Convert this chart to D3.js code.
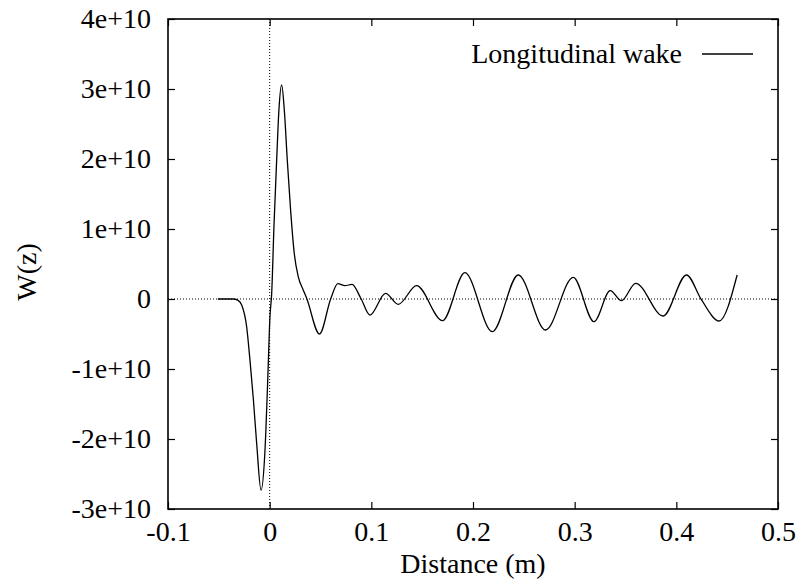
<!DOCTYPE html>
<html>
<head>
<meta charset="utf-8">
<script src="https://cdn.jsdelivr.net/npm/d3@7"></script>
<style>
  body { margin: 0; background: #fff; }
  svg text { font-family: 'Liberation Serif', Tinos, 'Times New Roman', Times, 'DejaVu Serif', serif; fill: #000; }
</style>
</head>
<body>
<div id="chart"></div>
<script>
// longitudinal wake, distance in m, W(z) in units of 1e10
const distance = [
  -0.051, -0.044, -0.036, -0.031, -0.0275, -0.0226, -0.0194, -0.016, -0.0128, -0.0085,
  -0.0046, -0.002, 0.0003, 0.002, 0.0042, 0.0069, 0.0091, 0.0118, 0.0144, 0.0173,
  0.0206, 0.0242, 0.0281, 0.033, 0.0364, 0.049, 0.060, 0.067, 0.074, 0.081,
  0.090, 0.0986, 0.114, 0.1265, 0.1445, 0.170, 0.192, 0.219, 0.2445, 0.2714,
  0.2986, 0.319, 0.335, 0.346, 0.360, 0.387, 0.410, 0.4248, 0.442, 0.4598
];
const wake = [
  0, 0, 0, -0.02, -0.086, -0.40, -0.87, -1.44, -2.06, -2.73,
  -2.16, -1.2, -0.25, 0.08, 1.03, 1.99, 2.7, 3.06, 2.7, 1.99,
  1.27, 0.65, 0.32, 0.13, 0.01, -0.5, 0, 0.22, 0.19, 0.21,
  0, -0.23, 0.08, -0.076, 0.19, -0.31, 0.376, -0.467, 0.343, -0.443,
  0.31, -0.324, 0.119, -0.024, 0.224, -0.243, 0.343, -0.014, -0.314, 0.343
];
const wakeUnit = 1e10;

const xTicks = [-0.1, 0, 0.1, 0.2, 0.3, 0.4, 0.5];
const yTicks = [-3e10, -2e10, -1e10, 0, 1e10, 2e10, 3e10, 4e10];

const seriesName = 'Longitudinal wake';
const xTitle = 'Distance (m)';
const yTitle = 'W(z)';

const serif = "'Liberation Serif', Tinos, 'Times New Roman', Times, 'DejaVu Serif', serif";

const width = 801, height = 585;
const margin = { top: 19, right: 23, bottom: 76, left: 168 };
const plotW = width - margin.left - margin.right;
const plotH = height - margin.top - margin.bottom;

const svg = d3.select('#chart').append('svg')
  .attr('width', width)
  .attr('height', height);

const g = svg.append('g')
  .attr('transform', `translate(${margin.left},${margin.top})`);

// scales
const x = d3.scaleLinear().domain([-0.1, 0.5]).range([0, plotW]);
const y = d3.scaleLinear().domain([-3e10, 4e10]).range([plotH, 0]);

const fmtX = d => String(+d.toFixed(1));
const fmtY = d => d === 0 ? '0' : (d / 1e10) + 'e+10';

// zero axes, dotted
g.append('line')
  .attr('x1', 0).attr('x2', plotW)
  .attr('y1', y(0)).attr('y2', y(0))
  .attr('stroke', '#000').attr('stroke-width', 1)
  .attr('stroke-dasharray', '1,2');
g.append('line')
  .attr('x1', x(0)).attr('x2', x(0))
  .attr('y1', 0).attr('y2', plotH)
  .attr('stroke', '#000').attr('stroke-width', 1)
  .attr('stroke-dasharray', '1,2');

// axes with inward ticks (mirrored on top / right)
const tickLen = 7;
const xAxis = g.append('g')
  .attr('transform', `translate(0,${plotH})`)
  .call(d3.axisBottom(x).tickValues(xTicks).tickFormat(fmtX)
    .tickSizeInner(-tickLen).tickSizeOuter(0).tickPadding(12));
const xAxisTop = g.append('g')
  .call(d3.axisTop(x).tickValues(xTicks).tickFormat('')
    .tickSizeInner(-tickLen).tickSizeOuter(0));
const yAxis = g.append('g')
  .call(d3.axisLeft(y).tickValues(yTicks).tickFormat(fmtY)
    .tickSizeInner(-tickLen).tickSizeOuter(0).tickPadding(17));
const yAxisRight = g.append('g')
  .attr('transform', `translate(${plotW},0)`)
  .call(d3.axisRight(y).tickValues(yTicks).tickFormat('')
    .tickSizeInner(-tickLen).tickSizeOuter(0));

[xAxis, xAxisTop, yAxis, yAxisRight].forEach(a => {
  a.attr('font-family', null).attr('font-size', null);
  a.select('.domain').remove();
  a.selectAll('.tick line').attr('stroke', '#000').attr('stroke-width', 1.2);
  a.selectAll('.tick text')
    .attr('font-family', serif)
    .attr('font-size', 28)
    .attr('fill', '#000');
});

// border
g.append('rect')
  .attr('x', 0).attr('y', 0)
  .attr('width', plotW).attr('height', plotH)
  .attr('fill', 'none')
  .attr('stroke', '#000')
  .attr('stroke-width', 1.6);

// wake curve
const points = distance.map((d, i) => [d, wake[i] * wakeUnit]);
const line = d3.line()
  .x(d => x(d[0]))
  .y(d => y(d[1]))
  .curve(d3.curveMonotoneX);

g.append('path')
  .datum(points)
  .attr('fill', 'none')
  .attr('stroke', '#000')
  .attr('stroke-width', 1.3)
  .attr('stroke-linejoin', 'round')
  .attr('d', line);

// legend
svg.append('text')
  .attr('x', 682).attr('y', 63)
  .attr('text-anchor', 'end')
  .attr('font-family', serif)
  .attr('font-size', 28)
  .text(seriesName);
svg.append('line')
  .attr('x1', 702).attr('x2', 753)
  .attr('y1', 54).attr('y2', 54)
  .attr('stroke', '#000').attr('stroke-width', 1.3);

// axis titles
svg.append('text')
  .attr('x', margin.left + plotW / 2).attr('y', 573)
  .attr('text-anchor', 'middle')
  .attr('font-family', serif)
  .attr('font-size', 28)
  .text(xTitle);
svg.append('text')
  .attr('transform', 'translate(36,272) rotate(-90)')
  .attr('text-anchor', 'middle')
  .attr('font-family', serif)
  .attr('font-size', 28)
  .text(yTitle);
</script>
</body>
</html>
